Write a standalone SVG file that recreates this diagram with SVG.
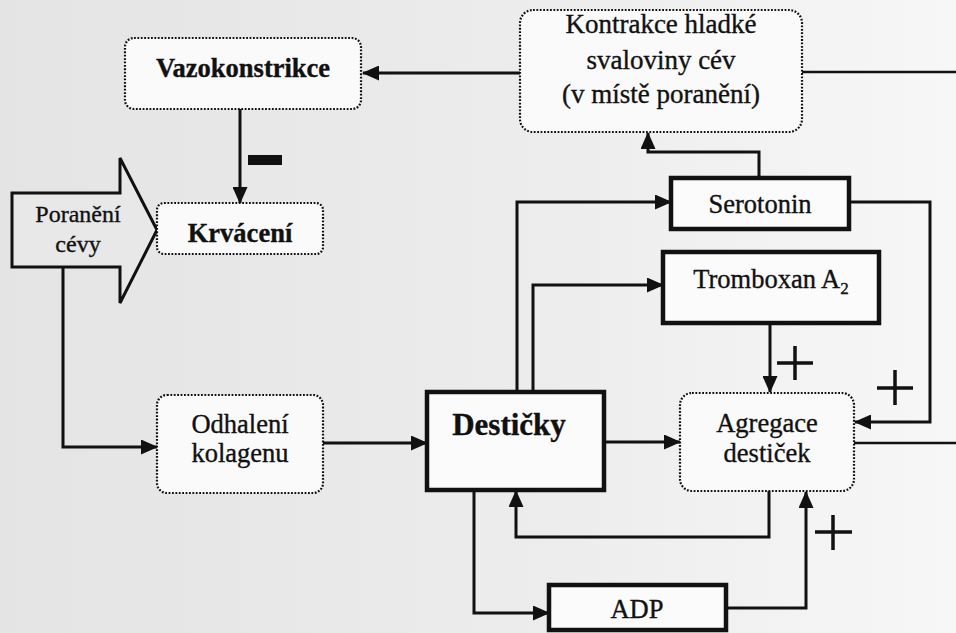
<svg xmlns="http://www.w3.org/2000/svg" width="956" height="633" viewBox="0 0 956 633">
  <defs>
    <linearGradient id="paper" x1="0" y1="0" x2="1" y2="0">
      <stop offset="0" stop-color="#e4e4e4"/>
      <stop offset="0.55" stop-color="#ececec"/>
      <stop offset="1" stop-color="#f7f7f7"/>
    </linearGradient>
    <marker id="arrow" markerUnits="userSpaceOnUse" markerWidth="17" markerHeight="15" refX="16" refY="7.5" orient="auto">
      <path d="M0,0 L17,7.5 L0,15 z" fill="#111"/>
    </marker>
    <style>
      text { font-family: "Liberation Serif", "Times New Roman", serif; fill: #111; stroke: #111; stroke-width: 0.35; text-anchor: middle; }
      .reg { font-size: 26.5px; }
      .bold { font-size: 26.5px; font-weight: bold; }
      .big { font-size: 31px; font-weight: bold; }
      .dotted { fill: #fafafa; stroke: #111; stroke-width: 2.2; stroke-dasharray: 1.8 1.6; }
      .solid { fill: #fbfbfb; stroke: #111; stroke-width: 4.5; }
      .conn path { fill: none; stroke: #111; stroke-width: 3; marker-end: url(#arrow); }
      .conn path.plain { marker-end: none; stroke-width: 2.4; }
      .sign { fill: none; stroke: #111; stroke-width: 3.5; }
    </style>
  </defs>

  <rect x="0" y="0" width="956" height="633" fill="url(#paper)"/>

  <!-- connectors -->
  <g id="connectors" class="conn">
    <path d="M520,73 L363,73"/>
    <path class="plain" d="M802,72 L956,72"/>
    <path d="M240,109 L240,203"/>
    <path d="M759,178 L759,152 L648,152 L648,133"/>
    <path d="M517,392 L517,202 L671,202"/>
    <path d="M533,392 L533,285 L663,285"/>
    <path d="M849,202 L930,202 L930,422 L855,422"/>
    <path d="M770,323 L770,392"/>
    <path d="M604,442 L680,442"/>
    <path class="plain" d="M854,443 L956,443"/>
    <path d="M769,491 L769,537 L516,537 L516,491"/>
    <path d="M474,490 L474,613 L549,613"/>
    <path d="M726,608 L806,608 L806,492"/>
    <path d="M63,267 L63,447 L157,447"/>
    <path d="M323,443 L427,443"/>
  </g>

  <!-- inhibition / activation signs -->
  <g id="signs">
    <rect x="248" y="155" width="34" height="10" fill="#111"/>
    <path class="sign" d="M777,363 H813 M795,346 V380"/>
    <path class="sign" d="M877,388 H913 M895,370 V405"/>
    <path class="sign" d="M815,532 H852 M833,515 V550"/>
  </g>

  <g id="poraneni">
    <path d="M12,193 H120 V158 L157,230 L120,303 V267 H12 Z" fill="#e8e8e8" stroke="#111" stroke-width="3"/>
    <text class="reg" x="78" y="222" style="font-size:24px">Poranění</text>
    <text class="reg" x="78" y="252" style="font-size:24px">cévy</text>
  </g>

  <g id="vazokonstrikce">
    <rect class="dotted" x="125" y="38" width="236" height="71" rx="9"/>
    <text class="bold" x="243" y="77">Vazokonstrikce</text>
  </g>

  <g id="kontrakce">
    <rect class="dotted" x="520" y="10" width="282" height="122" rx="13"/>
    <text class="reg" x="661" y="33" style="font-size:27px">Kontrakce hladké</text>
    <text class="reg" x="661" y="69" style="font-size:27px">svaloviny cév</text>
    <text class="reg" x="661" y="103" style="font-size:27px">(v místě poranění)</text>
  </g>

  <g id="krvaceni">
    <rect class="dotted" x="157" y="203" width="166" height="51" rx="7"/>
    <text class="bold" x="240" y="242">Krvácení</text>
  </g>

  <g id="serotonin">
    <rect class="solid" x="671" y="178" width="178" height="51"/>
    <text class="reg" x="760" y="213">Serotonin</text>
  </g>

  <g id="tromboxan">
    <rect class="solid" x="663" y="252" width="216" height="71"/>
    <text class="reg" x="771" y="288">Tromboxan A<tspan dy="6" style="font-size:17px">2</tspan></text>
  </g>

  <g id="odhaleni">
    <rect class="dotted" x="157" y="395" width="166" height="98" rx="10"/>
    <text class="reg" x="240" y="433">Odhalení</text>
    <text class="reg" x="240" y="462">kolagenu</text>
  </g>

  <g id="desticky">
    <rect class="solid" x="427" y="392" width="177" height="98"/>
    <text class="big" x="509" y="435">Destičky</text>
  </g>

  <g id="agregace">
    <rect class="dotted" x="680" y="393" width="174" height="98" rx="12"/>
    <text class="reg" x="767" y="432">Agregace</text>
    <text class="reg" x="767" y="462">destiček</text>
  </g>

  <g id="adp">
    <rect class="solid" x="549" y="585" width="177" height="45"/>
    <text class="reg" x="637" y="618">ADP</text>
  </g>
</svg>
